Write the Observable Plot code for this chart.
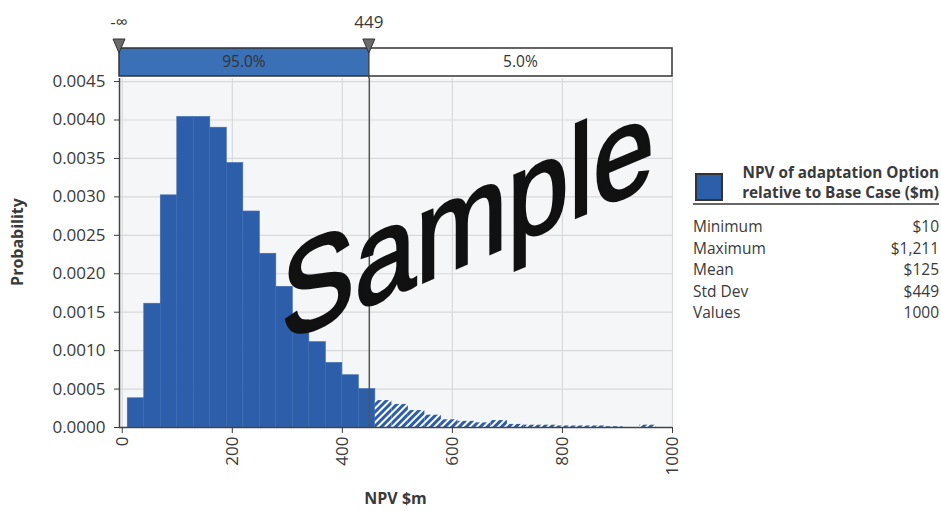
<!DOCTYPE html>
<html><head><meta charset="utf-8">
<script src="https://cdn.jsdelivr.net/npm/d3@7"></script>
<script src="https://cdn.jsdelivr.net/npm/@observablehq/plot@0.6"></script>
<style>
body{margin:0;background:#fff;}
#chart svg{display:block;}
</style></head><body><div id="chart"></div>
<script>
// ---- data ----
const binLower = [10,40,70,100,130,160,190,220,250,280,310,340,370,400,430,460,490,520,550,580,610,640,670,700,730,760,790,820,850,880,910,940,970];
const binUpper = [40,70,100,130,160,190,220,250,280,310,340,370,400,430,460,490,520,550,580,610,640,670,700,730,760,790,820,850,880,910,940,970,1000];
const probability = [0.00038,0.00161,0.00302,0.00404,0.00404,0.00390,0.00344,0.00281,0.00226,0.00183,0.00140,0.00111,0.00084,0.00068,0.00050,0.00035,0.00030,0.00022,0.00016,0.00010,0.00008,0.00006,0.00009,0.00004,0.00003,0.00003,0.00002,0.00002,0.00002,0.00001,0,0.00003,0];
const cutoff = 449;
const delimiterLabels = ["-\u221E", "449"];
const regionPercents = ["95.0%", "5.0%"];
const xTicks = [0,200,400,600,800,1000];
const yTicks = [0,0.0005,0.0010,0.0015,0.0020,0.0025,0.0030,0.0035,0.0040,0.0045];
const xDomain = [-5, 1000];
const yDomain = [0, 0.00454];
const xTitle = "NPV $m";
const yTitle = "Probability";
const legendTitle = ["NPV of adaptation Option", "relative to Base Case ($m)"];
const statNames = ["Minimum","Maximum","Mean","Std Dev","Values"];
const statValues = ["$10","$1,211","$125","$449","1000"];
const watermark = "Sample";

// ---- build ----
const bins = binLower.map((lo, i) => ({x1: lo, x2: binUpper[i], p: probability[i]}));
const solid = bins.filter(d => d.x1 < cutoff);
const hatched = bins.filter(d => d.x1 >= cutoff);
const BLUE = "#2d5ea9";
const TXT = "#3a3a3a";
const FONT = "'Open Sans', 'Noto Sans', sans-serif";

const plot = Plot.plot({
  width: 941, height: 511,
  marginLeft: 119, marginRight: 269, marginTop: 78, marginBottom: 84,
  style: {fontFamily: FONT, fontSize: "17px", color: TXT, background: "#fff", overflow: "visible"},
  x: {domain: xDomain},
  y: {domain: yDomain},
  marks: [
    Plot.frame({fill: "#f5f6f7", stroke: "none"}),
    Plot.gridX({ticks: xTicks, stroke: "#d8d9dd", strokeOpacity: 1, strokeWidth: 1.2}),
    Plot.gridY({ticks: yTicks, stroke: "#d8d9dd", strokeOpacity: 1, strokeWidth: 1.2}),
    Plot.rect(solid, {x1: "x1", x2: "x2", y1: 0, y2: "p", fill: BLUE, stroke: "#3b6cb3", strokeWidth: 0.6, inset: 0}),
    Plot.rect(hatched, {x1: "x1", x2: "x2", y1: 0, y2: "p", fill: "url(#hatch)", inset: 0}),
    Plot.ruleX([cutoff], {stroke: "#555", strokeWidth: 1.5}),
    Plot.ruleX([xDomain[0]], {stroke: "#444", strokeWidth: 1.5}),
    Plot.ruleY([0], {stroke: "#444", strokeWidth: 1.5}),
    Plot.axisY({ticks: yTicks, tickFormat: d3.format(".4f"), tickSize: 5, tickPadding: 9, label: null}),
    Plot.axisX({ticks: xTicks, tickFormat: d3.format("d"), tickRotate: -90, tickSize: 6, tickPadding: 3, label: null})
  ]
});
document.getElementById("chart").appendChild(plot);

const svg = d3.select(plot);
const xs = plot.scale("x"), ys = plot.scale("y");

// hatch pattern
const defs = svg.insert("defs", ":first-child");
const pat = defs.append("pattern").attr("id", "hatch").attr("patternUnits", "userSpaceOnUse")
  .attr("width", 5).attr("height", 5).attr("patternTransform", "rotate(45)");
pat.append("rect").attr("width", 5).attr("height", 5).attr("fill", "#ffffff");
pat.append("rect").attr("width", 3).attr("height", 5).attr("fill", BLUE);

const g = svg.append("g").attr("font-family", FONT).attr("fill", TXT).attr("text-anchor", "start");

// watermark
const wx = xs.apply(290), wy = ys.apply(0.00110);
g.append("text").text(watermark).attr("text-anchor", "start")
  .attr("font-family", "'Liberation Sans', Arial, sans-serif").attr("font-size", 110)
  .attr("fill", "#111").attr("stroke", "#111").attr("stroke-width", 2.5)
  .attr("transform", `translate(${wx},${wy}) skewY(-23) scale(1,1.17)`);

// top delimiter band
const xL = xs.apply(xDomain[0]), xC = xs.apply(cutoff), xR = xs.apply(xDomain[1]);
const bT = 48, bB = 76;
g.append("rect").attr("x", xL).attr("y", bT).attr("width", xC - xL).attr("height", bB - bT).attr("fill", "#3a70b6");
g.append("rect").attr("x", xC).attr("y", bT).attr("width", xR - xC).attr("height", bB - bT).attr("fill", "#fff");
g.append("rect").attr("x", xL).attr("y", bT).attr("width", xR - xL).attr("height", bB - bT)
  .attr("fill", "none").attr("stroke", "#333").attr("stroke-width", 1.5);
g.append("line").attr("x1", xC).attr("x2", xC).attr("y1", bT).attr("y2", ys.apply(yDomain[1]))
  .attr("stroke", "#444").attr("stroke-width", 1.5);
[[xL, xC], [xC, xR]].forEach(([a, b], i) => {
  g.append("text").text(regionPercents[i]).attr("x", (a + b) / 2).attr("y", (bT + bB) / 2 + 1)
    .attr("text-anchor", "middle").attr("dominant-baseline", "middle").attr("font-size", 15.5).attr("fill", "#333");
});
[xL, xC].forEach((x, i) => {
  g.append("path").attr("d", `M${x - 6},39 L${x + 6},39 L${x},53 Z`).attr("fill", "#6a6a6a").attr("stroke", "#333").attr("stroke-width", 1);
  g.append("text").text(delimiterLabels[i]).attr("x", x).attr("y", 28).attr("text-anchor", "middle").attr("font-size", 17);
});

// axis titles
g.append("text").text(yTitle).attr("transform", `translate(23,242) rotate(-90)`)
  .attr("text-anchor", "middle").attr("font-weight", "bold").attr("font-size", 16);
g.append("text").text(xTitle).attr("x", (xL + xR) / 2).attr("y", 504)
  .attr("text-anchor", "middle").attr("font-weight", "bold").attr("font-size", 16);

// legend
g.append("rect").attr("x", 696).attr("y", 174).attr("width", 26).attr("height", 26)
  .attr("fill", BLUE).attr("stroke", "#333").attr("stroke-width", 2);
legendTitle.forEach((t, i) => {
  g.append("text").text(t).attr("x", 939).attr("y", 178 + i * 20).attr("text-anchor", "end")
    .attr("font-weight", "bold").attr("font-size", 15.3);
});
g.append("line").attr("x1", 693).attr("x2", 939).attr("y1", 204).attr("y2", 204).attr("stroke", "#666").attr("stroke-width", 2);
statNames.forEach((n, i) => {
  const y = 232 + i * 21.5;
  g.append("text").text(n).attr("x", 693).attr("y", y).attr("text-anchor", "start").attr("font-size", 15.5);
  g.append("text").text(statValues[i]).attr("x", 939).attr("y", y).attr("text-anchor", "end").attr("font-size", 15.5);
});
</script>
</body></html>
